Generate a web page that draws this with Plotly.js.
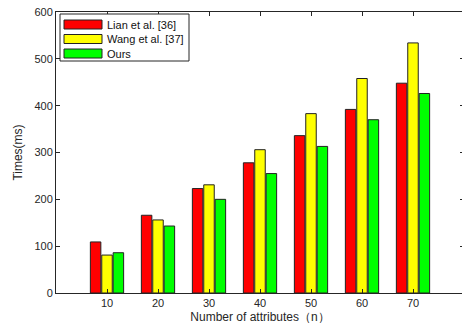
<!DOCTYPE html>
<html><head><meta charset="utf-8">
<script src="https://cdn.plot.ly/plotly-3.0.1.min.js"></script>
<style>html,body{margin:0;padding:0;overflow:hidden;background:#fff;width:462px;height:331px}</style>
</head><body><div id="chart"></div>
<script>
const categories = [10, 20, 30, 40, 50, 60, 70];
const lian = [109, 166, 223, 278, 336, 392, 448];
const wang = [81, 156, 231, 306, 383, 458, 534];
const ours = [86, 143, 200, 255, 313, 370, 426];
const seriesNames = ['Lian et al. [36]', 'Wang et al. [37]', 'Ours'];
const colors = ['#ff0000', '#ffff00', '#00ff00'];
const yTicks = [0, 100, 200, 300, 400, 500, 600];

const data = [lian, wang, ours].map((v, i) => ({
  type: 'bar', x: categories, y: v, name: seriesNames[i],
  marker: {color: colors[i], line: {color: '#222', width: 1}}
}));

const W = 466, H = 331, M = {l: 56, r: 2, t: 12, b: 38};
const pw = W - M.l - M.r, ph = H - M.t - M.b;
const px = x => (x - M.l) / pw;          // pixel -> paper x
const py = y => 1 - (y - M.t) / ph;      // pixel -> paper y

// custom legend (box + swatches + labels)
const shapes = [{type: 'rect', xref: 'paper', yref: 'paper',
  x0: px(60), x1: px(189), y0: py(61), y1: py(14),
  line: {color: '#262626', width: 1}, fillcolor: '#fff', layer: 'above'}];
const annotations = [];
seriesNames.forEach((n, i) => {
  const cy = 24.5 + i * 14.5;
  shapes.push({type: 'rect', xref: 'paper', yref: 'paper',
    x0: px(64), x1: px(102), y0: py(cy + 4.5), y1: py(cy - 4.5),
    line: {color: '#222', width: 1}, fillcolor: colors[i], layer: 'above'});
  annotations.push({xref: 'paper', yref: 'paper', x: px(105), y: py(cy),
    xanchor: 'left', yanchor: 'middle', showarrow: false, text: n,
    font: {size: 11, color: '#111'}});
});

const axisCommon = {
  showline: true, mirror: 'ticks', linecolor: '#262626', linewidth: 1,
  ticks: 'inside', ticklen: 4, tickcolor: '#262626', showgrid: false, zeroline: false,
  tickfont: {family: 'Liberation Sans, Arial, sans-serif', size: 11, color: '#262626'}
};

const layout = {
  width: W, height: H, margin: M,
  paper_bgcolor: '#fff', plot_bgcolor: '#fff',
  barmode: 'group', bargap: 0.33, bargroupgap: 0.08,
  font: {family: 'Liberation Sans, Arial, sans-serif', color: '#262626'},
  xaxis: Object.assign({}, axisCommon, {
    range: [0, 80], tickvals: categories, ticktext: categories.map(String),
    title: {text: 'Number of attributes（n）', font: {size: 12, color: '#262626'}, standoff: 4}
  }),
  yaxis: Object.assign({}, axisCommon, {
    range: [0, 600], tickvals: yTicks,
    title: {text: 'Times(ms)', font: {size: 12, color: '#262626'}, standoff: 9}
  }),
  shapes: shapes, annotations: annotations,
  showlegend: false
};

Plotly.newPlot('chart', data, layout, {displayModeBar: false, staticPlot: true});
</script></body></html>
